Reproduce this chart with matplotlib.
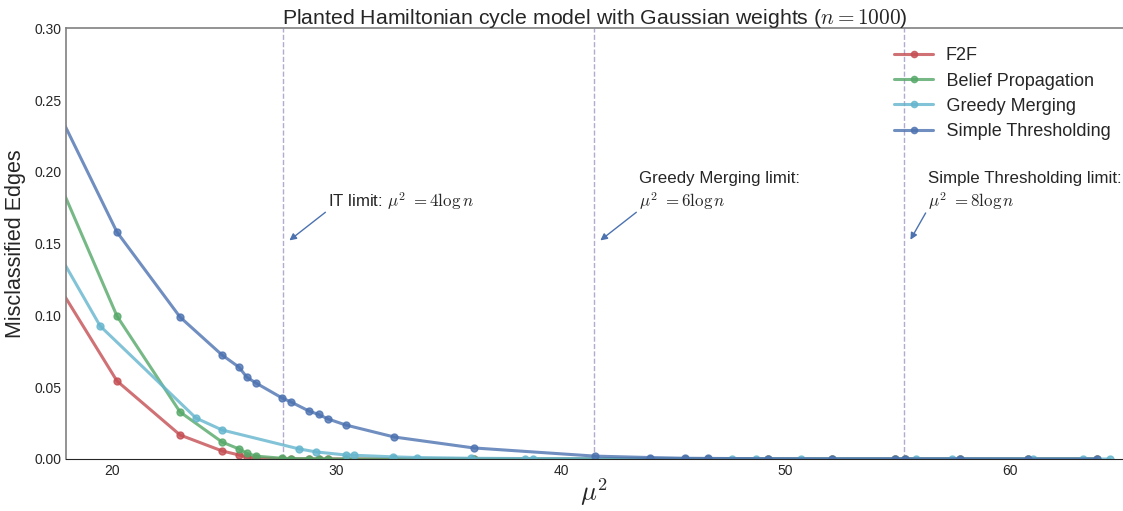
import numpy as np
import seaborn as sns
from matplotlib import pyplot as plt

sns.set_style("white")
plt.rcParams['font.family'] = ['Liberation Sans', 'DejaVu Sans']
plt.rcParams['mathtext.fontset'] = 'cm'

# x-values (mu^2) shared by F2F, BP and thresholding
x_main = [17.0, 20.22, 23.03, 24.9, 25.65, 26.0, 26.4, 27.57, 27.97, 28.77, 29.2, 29.6,
          30.4, 32.57, 36.1, 41.5, 43.96, 45.52, 46.55, 49.2, 52.07, 54.88, 55.32,
          57.77, 60.8, 63.87]
f2f = [0.136, 0.0543, 0.0167, 0.0056, 0.0028, 0.0014, 0.0007, 0, 0, 0, 0, 0,
       0, 0, 0, 0, 0, 0, 0, 0, 0, 0, 0, 0, 0, 0]
bp = [0.216, 0.0995, 0.0327, 0.0118, 0.007, 0.004, 0.002, 0.0005, 0.0003, 0.0002, 0.0001, 0.0001,
      0, 0, 0, 0, 0, 0, 0, 0, 0, 0, 0, 0, 0, 0]
thresh = [0.261, 0.158, 0.0988, 0.0724, 0.064, 0.057, 0.053, 0.0425, 0.0397, 0.0334, 0.031, 0.028,
          0.0237, 0.0153, 0.0077, 0.002, 0.001, 0.0005, 0.0004, 0.0002, 0.0001, 0.0001, 0.0001,
          0.0001, 0, 0]

x_greedy = [17.0, 19.47, 23.74, 24.9, 28.33, 29.1, 30.4, 30.77, 32.5, 33.6, 36.0, 38.4, 38.75,
            41.5, 47.6, 48.7, 50.7, 55.8, 57.4, 61.0, 63.25, 64.45]
greedy = [0.160, 0.0926, 0.0285, 0.0202, 0.007, 0.0049, 0.0028, 0.0026, 0.0015, 0.001, 0.0005,
          0.0003, 0.0003, 0.0002, 0, 0, 0, 0, 0, 0, 0, 0]

log_n = np.log(1000)
limits = [4 * log_n, 6 * log_n, 8 * log_n]

fig = plt.figure(figsize=(11.23, 5.11), dpi=100)
ax = fig.add_axes([0.0588, 0.1018, 0.9412, 0.843])

c_red, c_green, c_cyan, c_blue = '#C44E52', '#55A868', '#64B5CD', '#4C72B0'
kw = dict(lw=2.2, marker='o', ms=5, alpha=0.8)
ax.plot(x_main, f2f, color=c_red, label='F2F', **kw)
ax.plot(x_main, bp, color=c_green, label='\u200aBelief Propagation', **kw)
ax.plot(x_greedy, greedy, color=c_cyan, label='\u200aGreedy Merging', **kw)
ax.plot(x_main, thresh, color=c_blue, label='\u200aSimple Thresholding', **kw)

for lx in limits:
    ax.axvline(lx, color='#8172B2', ls='--', lw=1, alpha=0.6, zorder=0)

arrow = dict(arrowstyle='-|>', color=c_blue, lw=1, mutation_scale=10)
txt = dict(fontsize=12.2, va='center', color='#262626')
ax.annotate('', xy=(27.8, 0.151), xytext=(29.6, 0.173), arrowprops=arrow)
ax.text(29.6, 0.1796, r'IT limit: $\mu^2\ = 4\log n$', **txt)
ax.annotate('', xy=(41.65, 0.151), xytext=(43.45, 0.173), arrowprops=arrow)
ax.text(43.45, 0.1956, 'Greedy Merging limit:', **txt)
ax.text(43.45, 0.1796, r'$\mu^2\ = 6\log n$', **txt)
ax.annotate('', xy=(55.5, 0.151), xytext=(56.3, 0.173), arrowprops=arrow)
ax.text(56.35, 0.1956, 'Simple Thresholding limit:', **txt)
ax.text(56.35, 0.1796, r'$\mu^2\ = 8\log n$', **txt)

ax.set_xlim(17.95, 65.03)
ax.set_ylim(0, 0.30)
ax.set_xticks([20, 30, 40, 50, 60])
ax.set_yticks(np.arange(0, 0.31, 0.05))
ax.set_yticklabels(['%.2f' % v for v in np.arange(0, 0.31, 0.05)])
ax.tick_params(labelsize=10, colors='#262626', length=0)
for s in ['left', 'top']:
    ax.spines[s].set_color('0.5')
    ax.spines[s].set_linewidth(1.2)
ax.spines['bottom'].set_color('0.15')
ax.spines['right'].set_visible(False)

ax.set_title(r'Planted Hamiltonian cycle model with Gaussian weights ($n=1000$)',
             fontsize=15.3, color='#262626', pad=3)
ax.set_ylabel('Misclassified Edges', fontsize=15.5, color='#262626', labelpad=6)
ax.set_xlabel(r'$\mu^2$', fontsize=19, color='#262626', labelpad=-1)
ax.legend(loc='upper right', frameon=False, fontsize=13, bbox_to_anchor=(1.004, 0.993),
          handlelength=2.2, handletextpad=0.65, labelspacing=0.45, markerscale=0.9)

fig.savefig('out.png', dpi=100)
